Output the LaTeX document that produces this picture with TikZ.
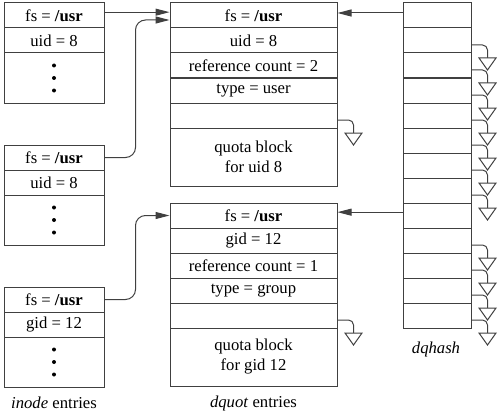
\documentclass[tikz,border=0pt]{standalone}
\usepackage{fontspec}
\setmainfont{Liberation Serif}
\usetikzlibrary{arrows.meta}

\tikzset{
  box/.style={draw=black!75,line width=0.6pt,inner sep=0pt,align=center,
    font=\fontsize{10}{12}\selectfont},
  irow/.style={box,minimum width=60pt,minimum height=15pt},
  idots/.style={box,minimum width=60pt,minimum height=30pt},
  drow/.style={box,minimum width=100.2pt,minimum height=15pt},
  dblock/.style={box,minimum width=100.2pt,minimum height=34.8pt},
  hrow/.style={box,minimum width=40.8pt,minimum height=15pt},
  ptr/.style={->,draw=black!75,line width=0.6pt},
  nullp/.pic={
    \draw[black!75,line width=0.6pt,rounded corners=3pt] (0,0) -| (16,13);
    \draw[black!75,line width=0.6pt,fill=white] (7.5,13) -- (24.5,13) -- (16,25) -- cycle;
  }
}

\begin{document}
\begin{tikzpicture}[x=0.6pt,y=-0.6pt,>={Triangle[length=8.4pt,width=4.2pt]},
  every node/.style={font=\fontsize{10}{12}\selectfont}]
\useasboundingbox (0,0) rectangle (500,411);
% inode entries
\node[irow] (ia) at (54,15.5) {fs = \textbf{/usr}};
\node[irow] (iauid) at (54,40.5) {uid = 8};
\node[idots] (iadots) at (54,78) {};
\node[irow] (ib) at (54,157.5) {fs = \textbf{/usr}};
\node[irow] (ibuid) at (54,182.5) {uid = 8};
\node[idots] (ibdots) at (54,220) {};
\node[irow] (ic) at (54,299.5) {fs = \textbf{/usr}};
\node[irow] (icgid) at (54,324.5) {gid = 12};
\node[idots] (icdots) at (54,362) {};
\node (ilabel) at (54,403) {\textit{inode} entries};
\foreach \n in {iadots,ibdots,icdots}
  \foreach \d in {-12.5,0,12.5}
    \fill ([yshift=-0.6*\d pt]\n.center) circle (1.2pt);
% dquot entries
\node[drow] (da) at (253.5,15.5) {fs = \textbf{/usr}};
\node[drow] (dauid) at (253.5,40.5) {uid = 8};
\node[drow] (daref) at (253.5,65.5) {reference count = 2};
\node[drow] (datype) at (253.5,90.5) {type = user};
\node[drow] (danext) at (253.5,115.5) {};
\node[dblock] (dablk) at (253.5,157) {quota block\\for uid 8};
\node[drow] (db) at (253.5,215.5) {fs = \textbf{/usr}};
\node[drow] (dbgid) at (253.5,240.5) {gid = 12};
\node[drow] (dbref) at (253.5,265.5) {reference count = 1};
\node[drow] (dbtype) at (253.5,290.5) {type = group};
\node[drow] (dbnext) at (253.5,315.5) {};
\node[dblock] (dbblk) at (253.5,357) {quota block\\for gid 12};
\node (dlabel) at (253.5,403) {\textit{dquot} entries};
\pic at ([yshift=-2.7pt]danext.east) {nullp};
\pic at ([yshift=-2.7pt]dbnext.east) {nullp};
% dqhash
\foreach \k in {0,...,12}
  \node[hrow] (h\k) at (437,15.5+25*\k) {};
\foreach \k in {1,...,7,9,10,11,12}
  \pic at ([yshift=-2.7pt]h\k.east) {nullp};
\node (hlabel) at (436,349) {\textit{dqhash}};
% pointers
\draw[ptr] ([yshift=2pt]ia.east) -- ([yshift=2pt]da.west);
\draw[ptr,rounded corners=6pt] (ib.east) -- ++(31,0) |- ([yshift=-2.7pt]da.west);
\draw[ptr,rounded corners=6pt] (ic.east) -- ++(31,0) |- (db.west);
\draw[ptr] ([yshift=1.5pt]h0.west) -- ([yshift=1.5pt]da.east);
\draw[ptr] ([yshift=2pt]h8.west) -- ([yshift=2pt]db.east);
\end{tikzpicture}
\end{document}
